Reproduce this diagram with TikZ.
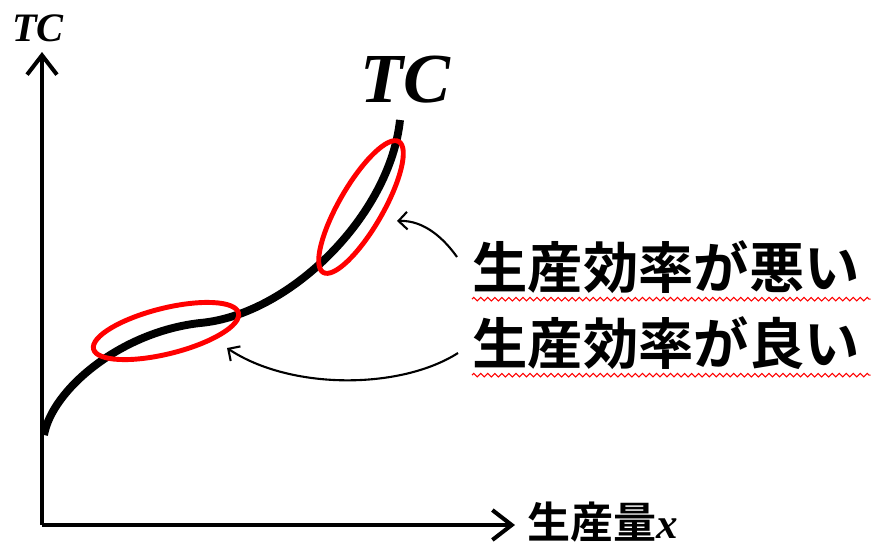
\documentclass[tikz,border=0pt]{standalone}
\usepackage{fontspec}
\newfontfamily\jp{Noto Sans CJK JP}[BoldFont={Noto Sans CJK JP Bold}]
\newfontfamily\tcf{Liberation Serif}
\usetikzlibrary{arrows.meta,shapes.geometric,decorations.pathmorphing}

\begin{document}
\begin{tikzpicture}[x=0.02cm, y=-0.02cm,
    axis/.style={line width=2.3pt, -{Straight Barb[length=11pt,width=17pt,line width=2.3pt]}},
    zone/.style={draw=red, line width=2.8pt, ellipse, inner sep=0pt},
    note/.style={font=\jp\bfseries\fontsize{31.5}{32}\selectfont, inner sep=0pt, anchor=west},
    pointer/.style={line width=1.2pt, -{Straight Barb[length=5pt,width=10pt,line width=1.2pt]}},
    squiggle/.style={draw=red, line width=0.6pt, decorate, decoration={zigzag, amplitude=1pt, segment length=4pt}}]
  \useasboundingbox (0,0) rectangle (875,549);
  % axes
  \coordinate (O) at (42,525);
  \node[font=\tcf\bfseries\itshape\fontsize{23}{24}\selectfont] (ylab) at (38,28) {TC};
  \node[anchor=west, inner sep=0pt] (xlab) at (527,522)
    {\jp\bfseries\fontsize{24.5}{25}\selectfont 生産量{\tcf\itshape x}};
  \draw[axis] (O) -- (42,52);
  \draw[axis] (O) -- (515,525);
  % total cost curve
  \draw[line width=4.5pt] (44,435) .. controls (52,390) and (120,332) .. (200,323)
    .. controls (290,315) and (390,215) .. (400,120);
  \node[font=\tcf\bfseries\itshape\fontsize{40}{40}\selectfont] (tc) at (405,80) {TC};
  % regions
  \node[zone, minimum width=85pt, minimum height=26pt, rotate=14] (good) at (166,331) {};
  \node[zone, minimum width=86pt, minimum height=25pt, rotate=60] (worse) at (361,207) {};
  \node[note] (bad) at (472,267) {生産効率が悪い};
  \node[note] (fine) at (472,343) {生産効率が良い};
  \draw[squiggle] ([yshift=-3pt]bad.south west) -- ([xshift=6pt,yshift=-3pt]bad.south east);
  \draw[squiggle] ([yshift=-3pt]fine.south west) -- ([xshift=6pt,yshift=-3pt]fine.south east);
  \draw[pointer] ([shift={(-15,-10)}]bad.west) .. controls (445,240) and (425,220)
    .. ([shift={(36,14)}]worse.center);
  \draw[pointer] ([shift={(-14,10)}]fine.west) .. controls (400,390) and (290,390)
    .. ([shift={(61,17)}]good.center);
\end{tikzpicture}
\end{document}
